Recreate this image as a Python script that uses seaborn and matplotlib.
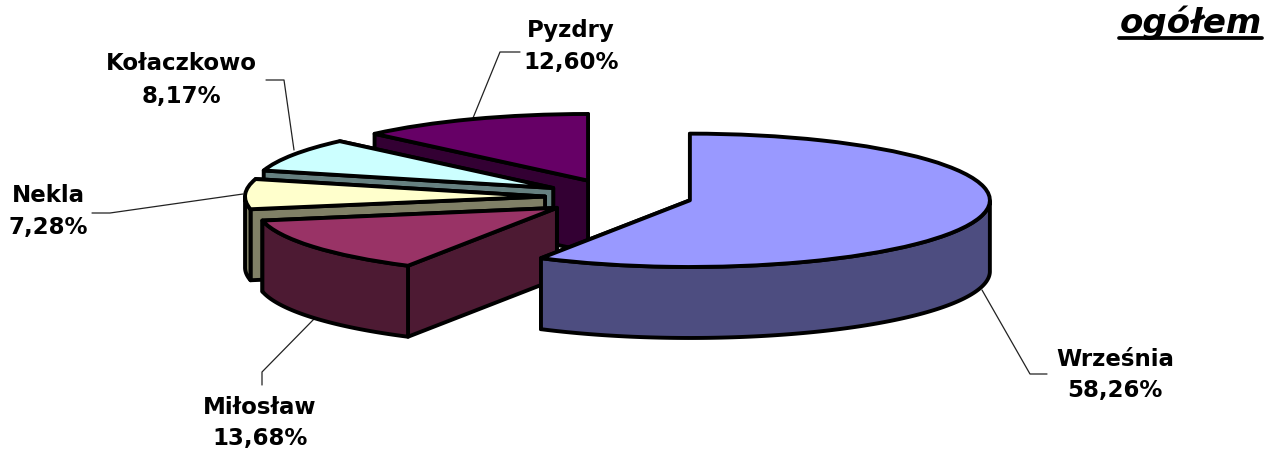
import numpy as np
import seaborn as sns
from matplotlib import pyplot as plt

names = ["Września", "Miłosław", "Nekla", "Kołaczkowo", "Pyzdry"]
shares = [58.26, 13.68, 7.28, 8.17, 12.60]
title = "ogółem"

top_colors = ["#9999ff", "#993366", "#ffffcc", "#ccffff", "#660066"]
side_colors = ["#4d4d80", "#4d1a33", "#808066", "#668080", "#330033"]

# layout, everything in pixels of the 1264x450 picture
squash = 4.5
depth = 71
radius = 300
pie_x, pie_y = 600, 197
# pie() adds explode as plain data units, not as a share of the radius
explode = [93, 53, 55, 54, 31]
nudge_y = [-2, 4, 0, -3, -10]
label_pos = [(1115, 375), (260, 423), (48, 212), (181, 80), (571, 46)]
leaders = [
    [(982, 290), (1030, 374), (1047, 374)],
    [(315, 318), (262, 372), (262, 385)],
    [(243, 194), (110, 213), (92, 213)],
    [(294, 150), (284, 80), (266, 80)],
    [(473, 118), (500, 52), (520, 52)],
]


def py(y):
    return (450 - y) * squash


sns.set_theme(style="white")
plt.rcParams["font.family"] = "DejaVu Sans"

fig = plt.figure(figsize=(12.64, 4.5), dpi=100)
ax = fig.add_axes([0, 0, 1, 1])
wedges, _ = ax.pie(shares, explode=explode, startangle=90, counterclock=False,
                   center=(pie_x, py(pie_y)), radius=radius, colors=top_colors,
                   wedgeprops=dict(edgecolor="black", linewidth=2.8, joinstyle="round"))
ax.set_aspect("auto")
ax.set_xlim(0, 1264)
ax.set_ylim(0, py(0))
ax.axis("off")

drop = depth * squash
n = len(wedges)
for i, w in enumerate(wedges):
    # back slices first, Września last
    z = 2 + 3 * (n - i)
    if i == 0:
        z = 2 + 3 * (n + 1)
    cx, cy = w.center
    cy = cy - nudge_y[i] * squash
    w.set_center((cx, cy))
    w.set_zorder(z + 2)
    style = dict(facecolor=side_colors[i], edgecolor="black", linewidth=2.8, joinstyle="round")
    for a in (w.theta1, w.theta2):
        rx = cx + radius * np.cos(np.radians(a))
        ry = cy + radius * np.sin(np.radians(a))
        ax.fill([cx, rx, rx, cx], [cy, ry, ry - drop, cy - drop], zorder=z, **style)
    t = np.radians(np.linspace(w.theta1, w.theta2, 300))
    t = t[np.sin(t) <= 0]
    if len(t) > 1:
        ax_ = cx + radius * np.cos(t)
        ay_ = cy + radius * np.sin(t)
        ax.fill(np.r_[ax_, ax_[::-1]], np.r_[ay_, ay_[::-1] - drop], zorder=z + 1, **style)

for line in leaders:
    xs = [p[0] for p in line]
    ys = [py(p[1]) for p in line]
    ax.plot(xs, ys, color="#222222", lw=0.9, zorder=1)

for name, share, pos in zip(names, shares, label_pos):
    label = name + "\n" + f"{share:.2f}%".replace(".", ",")
    ax.text(pos[0], py(pos[1]), label, ha="center", va="center", color="black",
            fontsize=16.5, fontweight="bold", linespacing=1.5, zorder=40)

ax.text(1262, py(33), title, ha="right", va="baseline", color="black",
        fontsize=24.5, fontweight="bold", fontstyle="italic", zorder=40)
ax.plot([1119, 1262], [py(38.5), py(38.5)], color="black", lw=2.7, zorder=40)

fig.savefig("out.png", dpi=100)
